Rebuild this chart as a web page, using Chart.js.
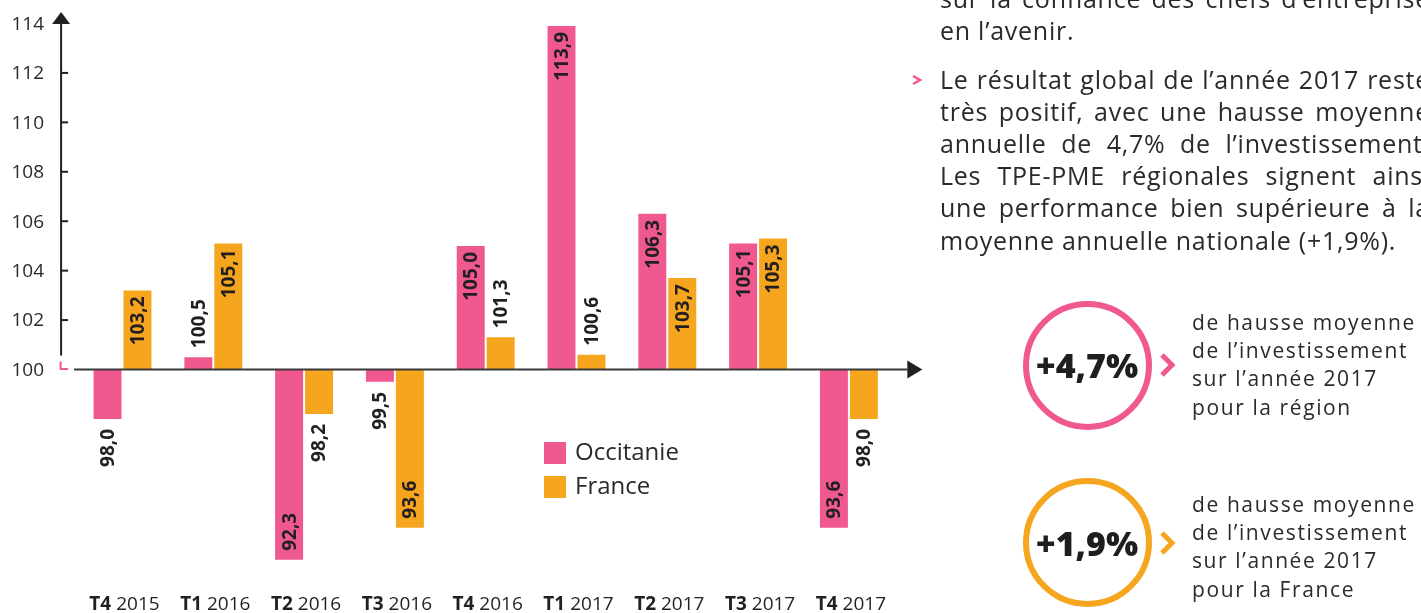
<!DOCTYPE html>
<html lang="fr">
<head>
<meta charset="utf-8">
<script src="https://cdn.jsdelivr.net/npm/chart.js@4.4.1/dist/chart.umd.min.js"></script>
<style>
html,body{margin:0;padding:0;width:1421px;height:613px;overflow:hidden;background:#fff;font-family:"Open Sans",sans-serif;color:#2b2a29;}
#c{position:absolute;left:0;top:0;}
.blk{position:absolute;white-space:nowrap;}
.para{font-size:25px;line-height:32.2px;letter-spacing:0.75px;left:940px;}
.para .j{width:490px;white-space:normal;text-align:justify;text-align-last:justify;}
.para .n{white-space:nowrap;}
.side{font-size:21px;line-height:28.3px;letter-spacing:1.6px;left:1192px;}
.ring{position:absolute;box-sizing:border-box;width:129px;height:129px;border-radius:50%;border:6.5px solid;display:flex;align-items:center;justify-content:center;font-weight:800;font-size:34px;color:#1f1d1d;letter-spacing:0px;}
svg{position:absolute;left:0;top:0;}
</style>
</head>
<body>
<canvas id="c" width="1421" height="613"></canvas>

<div class="blk para" style="top:-17.8px"><div class="j">sur la confiance des chefs d’entreprise</div><div class="n">en l’avenir.</div></div>
<div class="blk para" style="top:62.5px"><div class="j">Le résultat global de l’année 2017 reste</div><div class="j">très positif, avec une hausse moyenne</div><div class="j">annuelle de 4,7% de l’investissement.</div><div class="j">Les TPE-PME régionales signent ainsi</div><div class="j">une performance bien supérieure à la</div><div class="n">moyenne annuelle nationale (+1,9%).</div></div>

<div class="ring" style="left:1022.5px;top:300.5px;border-color:#ef598f;">+4,7%</div>
<div class="ring" style="left:1022.5px;top:478px;border-color:#f6a51e;">+1,9%</div>

<div class="blk side" style="top:307.7px">de hausse moyenne<br>de l’investissement<br>sur l’année 2017<br>pour la région</div>
<div class="blk side" style="top:489.7px">de hausse moyenne<br>de l’investissement<br>sur l’année 2017<br>pour la France</div>

<svg width="1421" height="613">
  <polyline points="913,76 920,80 913,84" fill="none" stroke="#ef598f" stroke-width="2.5"/>
  <polyline points="1162,355 1172,365 1162,375" fill="none" stroke="#ef598f" stroke-width="5"/>
  <polyline points="1162,533 1172,543 1162,553" fill="none" stroke="#f6a51e" stroke-width="5"/>
</svg>

<script>
// ---- data ----
const quarterLabels = ['T4', 'T1', 'T2', 'T3', 'T4', 'T1', 'T2', 'T3', 'T4'];
const yearLabels = ['2015', '2016', '2016', '2016', '2016', '2017', '2017', '2017', '2017'];
const categories = quarterLabels.map((q, i) => q + ' ' + yearLabels[i]);
const occitanieValues = [98.0, 100.5, 92.3, 99.5, 105.0, 113.9, 106.3, 105.1, 93.6];
const franceValues = [103.2, 105.1, 98.2, 93.6, 101.3, 100.6, 103.7, 105.3, 98.0];
const yTickValues = [100, 102, 104, 106, 108, 110, 112, 114];
const seriesNames = ['Occitanie', 'France'];
const baseValue = 100;

const PINK = '#ef598f';
const ORANGE = '#f6a51e';
const INK = '#231f20';
const FONT = '"Open Sans", sans-serif';

function fmt(v) { return v.toFixed(1).replace('.', ','); }

const decorPlugin = {
  id: 'decor',
  afterDatasetsDraw(chart) {
    const ctx = chart.ctx;
    const xS = chart.scales.x, yS = chart.scales.y;
    const ca = chart.chartArea;
    const ax = ca.left - 16;
    const y100 = yS.getPixelForValue(baseValue);
    const yTop = yS.getPixelForValue(yTickValues[yTickValues.length - 1]);
    ctx.save();

    // y axis line + arrow
    ctx.strokeStyle = INK; ctx.fillStyle = INK; ctx.lineWidth = 2;
    ctx.beginPath(); ctx.moveTo(ax, yTop); ctx.lineTo(ax, y100 - 14); ctx.stroke();
    ctx.beginPath(); ctx.moveTo(ax, yTop - 11.5); ctx.lineTo(ax - 9, yTop + 0.5); ctx.lineTo(ax + 9, yTop + 0.5); ctx.closePath(); ctx.fill();

    // tick marks
    yTickValues.forEach(v => {
      if (v === baseValue || v === yTickValues[yTickValues.length - 1]) return;
      const py = yS.getPixelForValue(v);
      ctx.beginPath(); ctx.moveTo(ax, py); ctx.lineTo(ax + 7, py); ctx.stroke();
    });
    // small pink corner at base
    ctx.strokeStyle = PINK; ctx.lineWidth = 2;
    ctx.beginPath(); ctx.moveTo(ax - 0.5, y100 - 8); ctx.lineTo(ax - 0.5, y100 - 0.5); ctx.lineTo(ax + 7, y100 - 0.5); ctx.stroke();

    // tick labels
    ctx.fillStyle = '#2b2a29';
    ctx.font = '19px ' + FONT;
    ctx.textAlign = 'right'; ctx.textBaseline = 'middle';
    yTickValues.forEach(v => {
      ctx.fillText(String(v), 44, yS.getPixelForValue(v) + 1);
    });

    // horizontal axis + arrow
    ctx.strokeStyle = '#3a3838'; ctx.fillStyle = INK; ctx.lineWidth = 2;
    const xEnd = ca.right + 13;
    ctx.beginPath(); ctx.moveTo(ca.left - 3, y100); ctx.lineTo(xEnd, y100); ctx.stroke();
    ctx.beginPath(); ctx.moveTo(xEnd + 15, y100); ctx.lineTo(xEnd, y100 - 9); ctx.lineTo(xEnd, y100 + 9); ctx.closePath(); ctx.fill();

    // x labels (bold quarter + regular year)
    ctx.textBaseline = 'middle'; ctx.textAlign = 'left'; ctx.fillStyle = INK;
    categories.forEach((c, i) => {
      const cx = xS.getPixelForValue(i) + 2;
      ctx.font = 'bold 19px ' + FONT;
      const q = quarterLabels[i];
      const wq = ctx.measureText(q).width;
      ctx.font = '19px ' + FONT;
      const yr = ' ' + yearLabels[i];
      const wy = ctx.measureText(yr).width;
      const x0 = cx - (wq + wy) / 2;
      ctx.font = 'bold 19px ' + FONT;
      ctx.fillText(q, x0, 605);
      ctx.font = '19px ' + FONT;
      ctx.fillText(yr, x0 + wq, 605);
    });

    // value labels (rotated)
    ctx.font = 'bold 19px ' + FONT;
    ctx.fillStyle = INK;
    chart.data.datasets.forEach((ds, di) => {
      const meta = chart.getDatasetMeta(di);
      meta.data.forEach((el, i) => {
        const v = ds.data[i];
        const p = el.getProps(['x', 'y', 'base'], true);
        const inside = Math.abs(v - baseValue) > 2.5;
        let oy, align;
        if (v >= baseValue) {
          if (inside) { oy = p.y + 6; align = 'right'; }
          else { oy = p.y - 9; align = 'left'; }
        } else {
          if (inside) { oy = p.y - 9; align = 'left'; }
          else { oy = p.y + 10; align = 'right'; }
        }
        ctx.save();
        ctx.translate(p.x + 1, oy);
        ctx.rotate(-Math.PI / 2);
        ctx.textAlign = align;
        ctx.textBaseline = 'middle';
        ctx.fillText(fmt(v), 0, 0);
        ctx.restore();
      });
    });

    // legend
    const legendPos = [[544, 442], [544, 476]];
    chart.data.datasets.forEach((ds, di) => {
      const [lx, ly] = legendPos[di];
      ctx.fillStyle = ds.backgroundColor;
      ctx.fillRect(lx, ly, 22, 22);
      ctx.fillStyle = '#2b2a29';
      ctx.font = '24px ' + FONT;
      ctx.textAlign = 'left'; ctx.textBaseline = 'middle';
      ctx.fillText(ds.label, 575, ly + 11);
    });

    ctx.restore();
  }
};

new Chart(document.getElementById('c'), {
  type: 'bar',
  data: {
    labels: categories,
    datasets: [
      { label: seriesNames[0], data: occitanieValues, backgroundColor: PINK, base: baseValue,
        categoryPercentage: 0.66, barPercentage: 0.933 },
      { label: seriesNames[1], data: franceValues, backgroundColor: ORANGE, base: baseValue,
        categoryPercentage: 0.66, barPercentage: 0.933 }
    ]
  },
  options: {
    responsive: false,
    animation: false,
    layout: { padding: { left: 77.1, right: 1421 - 894.3, top: 23.5, bottom: 45.8 } },
    plugins: { legend: { display: false }, tooltip: { enabled: false } },
    scales: {
      x: { display: false },
      y: { display: false, min: 92, max: 114 }
    }
  },
  plugins: [decorPlugin]
});
</script>
</body>
</html>
